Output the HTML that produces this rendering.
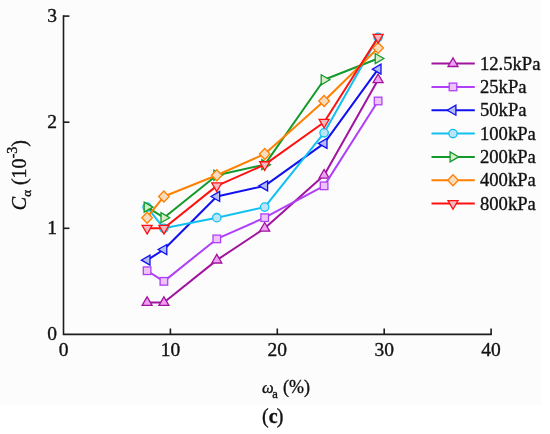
<!DOCTYPE html>
<html><head><meta charset="utf-8"><style>
html,body{margin:0;padding:0;background:#fff;}
svg{display:block;will-change:transform;}
text{font-family:"Liberation Serif",serif;fill:#111;stroke:#111;stroke-width:0.35px;}
</style></head><body>
<svg width="550" height="434" viewBox="0 0 550 434">
<rect width="550" height="434" fill="#fff"/>
<rect width="542" height="405" fill="#fcfcfc"/>
<g stroke="#1c1c1c" stroke-width="1.6" fill="none" stroke-linecap="butt">
<path d="M63.5,15.3 V334.4 H491.9"/>
<path d="M63.5,228.30 H69.4"/>
<path d="M63.5,122.20 H69.4"/>
<path d="M63.5,16.10 H69.4"/>
<path d="M170.40,334.4 V328.5"/>
<path d="M277.30,334.4 V328.5"/>
<path d="M384.20,334.4 V328.5"/>
<path d="M491.10,334.4 V328.5"/>
</g>
<text x="57" y="340.20" font-size="19.5" text-anchor="end">0</text>
<text x="57" y="234.10" font-size="19.5" text-anchor="end">1</text>
<text x="57" y="128.00" font-size="19.5" text-anchor="end">2</text>
<text x="57" y="21.90" font-size="19.5" text-anchor="end">3</text>
<text x="63.50" y="355.8" font-size="19.5" text-anchor="middle">0</text>
<text x="170.40" y="355.8" font-size="19.5" text-anchor="middle">10</text>
<text x="277.30" y="355.8" font-size="19.5" text-anchor="middle">20</text>
<text x="384.20" y="355.8" font-size="19.5" text-anchor="middle">30</text>
<text x="491.10" y="355.8" font-size="19.5" text-anchor="middle">40</text>
<polyline points="147.1,302.57 163.9,302.57 216.8,260.13 264.7,228.30 324.1,175.25 378.1,79.76" fill="none" stroke="#a0149f" stroke-width="2.0" stroke-linejoin="round"/>
<polygon points="147.10,296.80 152.10,305.46 142.10,305.46" fill="#f0a0f0" stroke="#a0149f" stroke-width="1.3"/>
<polygon points="163.90,296.80 168.90,305.46 158.90,305.46" fill="#f0a0f0" stroke="#a0149f" stroke-width="1.3"/>
<polygon points="216.80,254.36 221.80,263.02 211.80,263.02" fill="#f0a0f0" stroke="#a0149f" stroke-width="1.3"/>
<polygon points="264.70,222.53 269.70,231.19 259.70,231.19" fill="#f0a0f0" stroke="#a0149f" stroke-width="1.3"/>
<polygon points="324.10,169.48 329.10,178.14 319.10,178.14" fill="#f0a0f0" stroke="#a0149f" stroke-width="1.3"/>
<polygon points="378.10,73.99 383.10,82.65 373.10,82.65" fill="#f0a0f0" stroke="#a0149f" stroke-width="1.3"/>
<polyline points="147.1,270.74 163.9,281.35 216.8,238.91 264.7,217.69 324.1,185.86 378.1,100.98" fill="none" stroke="#b040f8" stroke-width="2.0" stroke-linejoin="round"/>
<rect x="143.30" y="266.94" width="7.6" height="7.6" fill="#ecc4f8" stroke="#b040f8" stroke-width="1.3"/>
<rect x="160.10" y="277.55" width="7.6" height="7.6" fill="#ecc4f8" stroke="#b040f8" stroke-width="1.3"/>
<rect x="213.00" y="235.11" width="7.6" height="7.6" fill="#ecc4f8" stroke="#b040f8" stroke-width="1.3"/>
<rect x="260.90" y="213.89" width="7.6" height="7.6" fill="#ecc4f8" stroke="#b040f8" stroke-width="1.3"/>
<rect x="320.30" y="182.06" width="7.6" height="7.6" fill="#ecc4f8" stroke="#b040f8" stroke-width="1.3"/>
<rect x="374.30" y="97.18" width="7.6" height="7.6" fill="#ecc4f8" stroke="#b040f8" stroke-width="1.3"/>
<polyline points="147.1,260.13 163.9,249.52 216.8,196.47 264.7,185.86 324.1,143.42 378.1,69.15" fill="none" stroke="#1010f0" stroke-width="2.0" stroke-linejoin="round"/>
<polygon points="141.33,260.13 149.99,265.13 149.99,255.13" fill="#b4bcf0" stroke="#1010f0" stroke-width="1.3"/>
<polygon points="158.13,249.52 166.79,254.52 166.79,244.52" fill="#b4bcf0" stroke="#1010f0" stroke-width="1.3"/>
<polygon points="211.03,196.47 219.69,201.47 219.69,191.47" fill="#b4bcf0" stroke="#1010f0" stroke-width="1.3"/>
<polygon points="258.93,185.86 267.59,190.86 267.59,180.86" fill="#b4bcf0" stroke="#1010f0" stroke-width="1.3"/>
<polygon points="318.33,143.42 326.99,148.42 326.99,138.42" fill="#b4bcf0" stroke="#1010f0" stroke-width="1.3"/>
<polygon points="372.33,69.15 380.99,74.15 380.99,64.15" fill="#b4bcf0" stroke="#1010f0" stroke-width="1.3"/>
<polyline points="147.1,207.08 163.9,228.30 216.8,217.69 264.7,207.08 324.1,132.81 378.1,37.32" fill="none" stroke="#10c0f0" stroke-width="2.0" stroke-linejoin="round"/>
<circle cx="147.10" cy="207.08" r="4.2" fill="#bce4f4" stroke="#10c0f0" stroke-width="1.3"/>
<circle cx="163.90" cy="228.30" r="4.2" fill="#bce4f4" stroke="#10c0f0" stroke-width="1.3"/>
<circle cx="216.80" cy="217.69" r="4.2" fill="#bce4f4" stroke="#10c0f0" stroke-width="1.3"/>
<circle cx="264.70" cy="207.08" r="4.2" fill="#bce4f4" stroke="#10c0f0" stroke-width="1.3"/>
<circle cx="324.10" cy="132.81" r="4.2" fill="#bce4f4" stroke="#10c0f0" stroke-width="1.3"/>
<circle cx="378.10" cy="37.32" r="4.2" fill="#bce4f4" stroke="#10c0f0" stroke-width="1.3"/>
<polyline points="147.1,207.08 163.9,217.69 216.8,175.25 264.7,164.64 324.1,79.76 378.1,58.54" fill="none" stroke="#129a2b" stroke-width="2.0" stroke-linejoin="round"/>
<polygon points="152.87,207.08 144.21,212.08 144.21,202.08" fill="#d8ecc8" stroke="#129a2b" stroke-width="1.3"/>
<polygon points="169.67,217.69 161.01,222.69 161.01,212.69" fill="#d8ecc8" stroke="#129a2b" stroke-width="1.3"/>
<polygon points="222.57,175.25 213.91,180.25 213.91,170.25" fill="#d8ecc8" stroke="#129a2b" stroke-width="1.3"/>
<polygon points="270.47,164.64 261.81,169.64 261.81,159.64" fill="#d8ecc8" stroke="#129a2b" stroke-width="1.3"/>
<polygon points="329.87,79.76 321.21,84.76 321.21,74.76" fill="#d8ecc8" stroke="#129a2b" stroke-width="1.3"/>
<polygon points="383.87,58.54 375.21,63.54 375.21,53.54" fill="#d8ecc8" stroke="#129a2b" stroke-width="1.3"/>
<polyline points="147.1,217.69 163.9,196.47 216.8,175.25 264.7,154.03 324.1,100.98 378.1,47.93" fill="none" stroke="#ff8000" stroke-width="2.0" stroke-linejoin="round"/>
<polygon points="147.10,212.19 152.40,217.69 147.10,223.19 141.80,217.69" fill="#f8dcc0" stroke="#ff8000" stroke-width="1.3"/>
<polygon points="163.90,190.97 169.20,196.47 163.90,201.97 158.60,196.47" fill="#f8dcc0" stroke="#ff8000" stroke-width="1.3"/>
<polygon points="216.80,169.75 222.10,175.25 216.80,180.75 211.50,175.25" fill="#f8dcc0" stroke="#ff8000" stroke-width="1.3"/>
<polygon points="264.70,148.53 270.00,154.03 264.70,159.53 259.40,154.03" fill="#f8dcc0" stroke="#ff8000" stroke-width="1.3"/>
<polygon points="324.10,95.48 329.40,100.98 324.10,106.48 318.80,100.98" fill="#f8dcc0" stroke="#ff8000" stroke-width="1.3"/>
<polygon points="378.10,42.43 383.40,47.93 378.10,53.43 372.80,47.93" fill="#f8dcc0" stroke="#ff8000" stroke-width="1.3"/>
<polyline points="147.1,228.30 163.9,228.30 216.8,185.86 264.7,164.64 324.1,122.20 378.1,37.32" fill="none" stroke="#ff1010" stroke-width="2.0" stroke-linejoin="round"/>
<polygon points="147.10,234.07 152.10,225.41 142.10,225.41" fill="#f4b8c0" stroke="#ff1010" stroke-width="1.3"/>
<polygon points="163.90,234.07 168.90,225.41 158.90,225.41" fill="#f4b8c0" stroke="#ff1010" stroke-width="1.3"/>
<polygon points="216.80,191.63 221.80,182.97 211.80,182.97" fill="#f4b8c0" stroke="#ff1010" stroke-width="1.3"/>
<polygon points="264.70,170.41 269.70,161.75 259.70,161.75" fill="#f4b8c0" stroke="#ff1010" stroke-width="1.3"/>
<polygon points="324.10,127.97 329.10,119.31 319.10,119.31" fill="#f4b8c0" stroke="#ff1010" stroke-width="1.3"/>
<polygon points="378.10,43.09 383.10,34.43 373.10,34.43" fill="#f4b8c0" stroke="#ff1010" stroke-width="1.3"/>
<path d="M431.5,63.60 H474.8" stroke="#a0149f" stroke-width="2.0"/>
<polygon points="453.00,57.83 458.00,66.49 448.00,66.49" fill="#f0a0f0" stroke="#a0149f" stroke-width="1.3"/>
<text x="480" y="69.70" font-size="18.6">12.5kPa</text>
<path d="M431.5,86.92 H474.8" stroke="#b040f8" stroke-width="2.0"/>
<rect x="449.20" y="83.12" width="7.6" height="7.6" fill="#ecc4f8" stroke="#b040f8" stroke-width="1.3"/>
<text x="480" y="93.02" font-size="18.6">25kPa</text>
<path d="M431.5,110.24 H474.8" stroke="#1010f0" stroke-width="2.0"/>
<polygon points="447.23,110.24 455.89,115.24 455.89,105.24" fill="#b4bcf0" stroke="#1010f0" stroke-width="1.3"/>
<text x="480" y="116.34" font-size="18.6">50kPa</text>
<path d="M431.5,133.56 H474.8" stroke="#10c0f0" stroke-width="2.0"/>
<circle cx="453.00" cy="133.56" r="4.2" fill="#bce4f4" stroke="#10c0f0" stroke-width="1.3"/>
<text x="480" y="139.66" font-size="18.6">100kPa</text>
<path d="M431.5,156.88 H474.8" stroke="#129a2b" stroke-width="2.0"/>
<polygon points="458.77,156.88 450.11,161.88 450.11,151.88" fill="#d8ecc8" stroke="#129a2b" stroke-width="1.3"/>
<text x="480" y="162.98" font-size="18.6">200kPa</text>
<path d="M431.5,180.20 H474.8" stroke="#ff8000" stroke-width="2.0"/>
<polygon points="453.00,174.70 458.30,180.20 453.00,185.70 447.70,180.20" fill="#f8dcc0" stroke="#ff8000" stroke-width="1.3"/>
<text x="480" y="186.30" font-size="18.6">400kPa</text>
<path d="M431.5,203.52 H474.8" stroke="#ff1010" stroke-width="2.0"/>
<polygon points="453.00,209.29 458.00,200.63 448.00,200.63" fill="#f4b8c0" stroke="#ff1010" stroke-width="1.3"/>
<text x="480" y="209.62" font-size="18.6">800kPa</text>
<text transform="translate(25.9,210.2) rotate(-90)" font-size="20"><tspan font-style="italic">C</tspan><tspan font-size="13" dy="5.1">α</tspan><tspan dy="-5.1"> (10</tspan><tspan font-size="14" dy="-9.3">-3</tspan><tspan dy="9.3">)</tspan></text>
<text x="262" y="392.5" font-size="16.5" font-style="italic">ω</text>
<text x="272.3" y="397.8" font-size="12.5">a</text>
<text x="283" y="392.5" font-size="18">(%)</text>
<text x="262" y="422.8" font-size="20">(<tspan font-weight="bold">c</tspan><tspan dx="-0.9">)</tspan></text>
</svg></body></html>
